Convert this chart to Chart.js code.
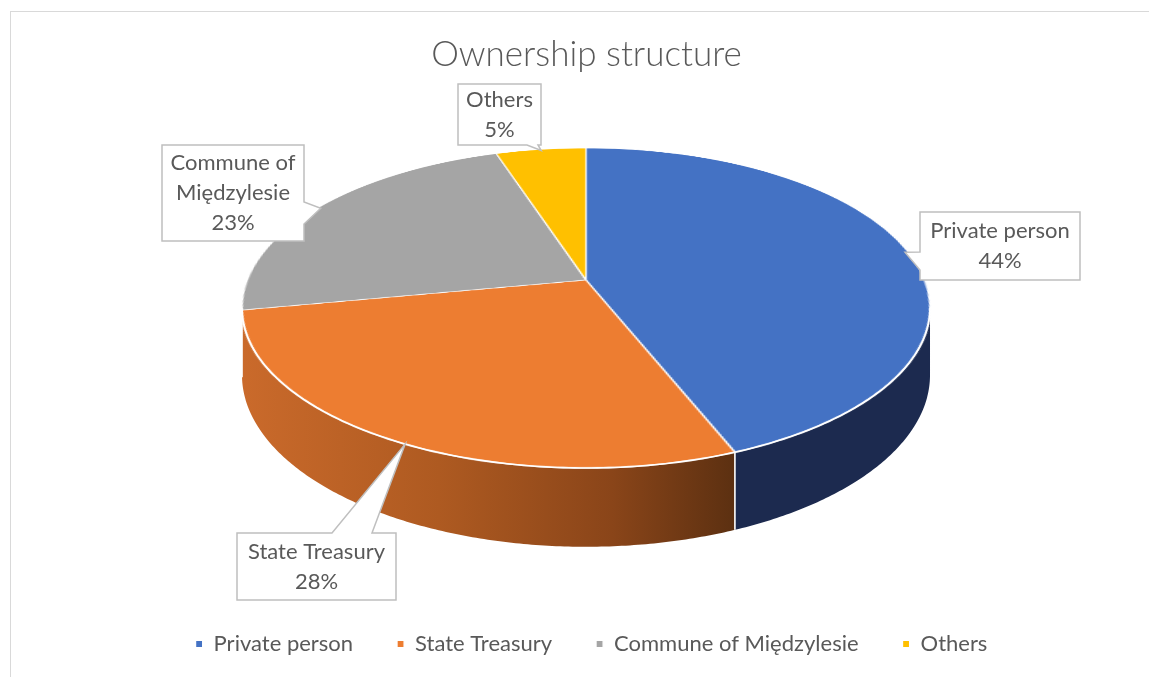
<!DOCTYPE html>
<html>
<head>
<meta charset="utf-8">
<script src="https://cdn.jsdelivr.net/npm/chart.js@4.4.0/dist/chart.umd.min.js"></script>
<style>
  html, body { margin: 0; padding: 0; background: #ffffff; overflow: hidden; }
  #wrap { position: relative; width: 1149px; height: 677px; }
  #chart { background: #ffffff; }
</style>
</head>
<body>
<div id="wrap"><canvas id="chart" width="1149" height="677"></canvas></div>
<script>
// Ownership shares (percent)
const categories = ['Private person', 'State Treasury', 'Commune of Międzylesie', 'Others'];
const shares = [44, 28, 23, 5];
// Category names as broken onto lines inside the callouts
const calloutLines = [['Private person'], ['State Treasury'], ['Commune of', 'Międzylesie'], ['Others']];

const topColors = ['#4472C4', '#ED7D31', '#A5A5A5', '#FFC000'];
const sideStops = [
  [[0, '#1C2A4F'], [1, '#1C2A4F']],
  [[0, '#CA6A2B'], [0.4, '#AE5A21'], [0.75, '#8A4519'], [1, '#5C3011']],
  [[0, '#707070'], [1, '#707070']],
  [[0, '#A37C00'], [1, '#A37C00']]
];

// Perspective view of the tilted disc: screen position of the centre, horizontal and
// vertical half-axes, perspective strength and wall height
const VIEW = { cx: 586, cy: 280, A: 338.7, B: 155.1, p: 0.175, H: 65 };

// Callout boxes: [x, y, w, h], side carrying the pointer, pointer base, where along the slice it points
const callouts = [
  { box: [920, 212, 160, 68], side: 'left',   base: [252, 270], at: 0.5,  r: 0.99 },
  { box: [237, 533, 159, 67], side: 'top',    base: [332, 372], at: 0.48, r: 1.0 },
  { box: [162, 145, 142, 96], side: 'right',  base: [202, 224], at: 0.5,  r: 0.99 },
  { box: [458, 84, 83, 61],   side: 'bottom', base: [527, 538], at: 0.5,  r: 0.99 }
];

const FONT = 'Lato, "Open Sans", sans-serif';
const TEXT = '#595959';

// project a point of the unit disc (theta clockwise from the far side, radius r)
function proj(theta, r) {
  const u = r * Math.sin(theta), w = r * Math.cos(theta);
  const q = 1 + VIEW.p * w;
  return { x: VIEW.cx + VIEW.A * u / q, y: VIEW.cy - VIEW.B * w / q, q };
}

function layer(chart) {
  const c = document.createElement('canvas');
  c.width = chart.canvas.width;
  c.height = chart.canvas.height;
  c.getContext('2d').drawImage(chart.canvas, 0, 0);
  return c;
}

function wipe(ctx) {
  ctx.save();
  ctx.setTransform(1, 0, 0, 1, 0, 0);
  ctx.clearRect(0, 0, ctx.canvas.width, ctx.canvas.height);
  ctx.restore();
}

const frame = {
  id: 'frame',
  beforeDraw(chart) {
    const ctx = chart.ctx;
    ctx.save();
    ctx.strokeStyle = '#D9D9D9';
    ctx.lineWidth = 1;
    ctx.strokeRect(10.5, 11.5, chart.width + 20, chart.height + 20);
    ctx.restore();
  },
  afterLayout(chart) {
    chart.legend.left += 5;
    chart.legend.right += 5;
  }
};

let backdrop = null;

const pie3d = {
  id: 'pie3d',
  beforeDatasetsDraw(chart) {
    // keep what is drawn so far, let the slices render on an empty sheet
    backdrop = layer(chart);
    wipe(chart.ctx);
  },
  afterDatasetsDraw(chart) {
    const ctx = chart.ctx;
    const flat = layer(chart);
    wipe(ctx);
    ctx.drawImage(backdrop, 0, 0);

    const arcs = chart.getDatasetMeta(0).data;
    const { x: x0, y: y0, outerRadius: R } = arcs[0];
    const { cx, cy, A, B, p, H } = VIEW;
    const tA = Math.PI / 2 + Math.asin(p), tB = 2 * Math.PI - tA;

    // walls on the visible front of the disc
    arcs.forEach((arc, i) => {
      const s = Math.max(arc.startAngle + Math.PI / 2, tA);
      const e = Math.min(arc.endAngle + Math.PI / 2, tB);
      if (e <= s) return;
      const n = Math.max(2, Math.ceil((e - s) / 0.01));
      const top = [], bot = [];
      for (let k = 0; k <= n; k++) {
        const pt = proj(s + (e - s) * k / n, 1);
        top.push(pt);
        bot.push({ x: pt.x, y: pt.y + H / pt.q });
      }
      const xs = top.map(pt => pt.x);
      const g = ctx.createLinearGradient(Math.min(...xs), 0, Math.max(...xs), 0);
      sideStops[i].forEach(([o, c]) => g.addColorStop(o, c));
      ctx.beginPath();
      top.forEach((pt, k) => k ? ctx.lineTo(pt.x, pt.y) : ctx.moveTo(pt.x, pt.y));
      for (let k = bot.length - 1; k >= 0; k--) ctx.lineTo(bot[k].x, bot[k].y);
      ctx.closePath();
      ctx.fillStyle = g;
      ctx.fill();
    });

    // top face: the library's flat pie, re-drawn row by row in perspective
    ctx.save();
    ctx.imageSmoothingEnabled = true;
    ctx.imageSmoothingQuality = 'high';
    const yTop = Math.floor(cy - B / (1 + p)), yBot = Math.ceil(cy + B / (1 - p));
    const pad = 2;
    for (let y = yTop; y <= yBot; y++) {
      const d = y + 0.5 - cy;
      const w = -d / (B + p * d);
      if (Math.abs(w) > 1.01) continue;
      const q = 1 + p * w;
      const hs = Math.max(0.5, R * B / Math.pow(B + p * d, 2));
      const ys = y0 - w * R;
      const half = A * (R + pad) / (R * q);
      ctx.drawImage(flat, x0 - R - pad, ys - hs / 2, 2 * (R + pad), hs, cx - half, y, 2 * half, 1);
    }
    ctx.restore();

    // white edges: front rim and the slice seams on the wall
    ctx.save();
    ctx.strokeStyle = '#ffffff';
    ctx.lineWidth = 1.6;
    ctx.beginPath();
    for (let k = 0; k <= 200; k++) {
      const pt = proj(tA + (tB - tA) * k / 200, 1);
      k ? ctx.lineTo(pt.x, pt.y) : ctx.moveTo(pt.x, pt.y);
    }
    ctx.stroke();
    arcs.forEach(arc => {
      const t = arc.startAngle + Math.PI / 2;
      if (t <= tA || t >= tB) return;
      const pt = proj(t, 1);
      ctx.beginPath();
      ctx.moveTo(pt.x, pt.y);
      ctx.lineTo(pt.x, pt.y + H / pt.q);
      ctx.stroke();
    });
    ctx.restore();
  },
  afterDraw(chart) {
    const ctx = chart.ctx;
    const arcs = chart.getDatasetMeta(0).data;
    ctx.save();
    callouts.forEach((c, i) => {
      const arc = arcs[i];
      const ang = arc.startAngle + (arc.endAngle - arc.startAngle) * c.at + Math.PI / 2;
      const tip = proj(ang, c.r);
      const tx = tip.x, ty = tip.y;
      const [x, y, w, h] = c.box;
      const [b0, b1] = c.base;
      ctx.beginPath();
      ctx.moveTo(x, y);
      if (c.side === 'top') { ctx.lineTo(b0, y); ctx.lineTo(tx, ty); ctx.lineTo(b1, y); }
      ctx.lineTo(x + w, y);
      if (c.side === 'right') { ctx.lineTo(x + w, b0); ctx.lineTo(tx, ty); ctx.lineTo(x + w, b1); }
      ctx.lineTo(x + w, y + h);
      if (c.side === 'bottom') { ctx.lineTo(b1, y + h); ctx.lineTo(tx, ty); ctx.lineTo(b0, y + h); }
      ctx.lineTo(x, y + h);
      if (c.side === 'left') { ctx.lineTo(x, b1); ctx.lineTo(tx, ty); ctx.lineTo(x, b0); }
      ctx.closePath();
      ctx.fillStyle = '#ffffff';
      ctx.fill();
      ctx.strokeStyle = '#BFBFBF';
      ctx.lineWidth = 1.5;
      ctx.stroke();

      const lines = calloutLines[i].concat([shares[i] + '%']);
      const lh = 30;
      ctx.fillStyle = TEXT;
      ctx.font = '22px ' + FONT;
      ctx.textAlign = 'center';
      ctx.textBaseline = 'middle';
      lines.forEach((t, k) => {
        ctx.fillText(t, x + w / 2, y + h / 2 + (k - (lines.length - 1) / 2) * lh);
      });
    });
    ctx.restore();
  }
};

new Chart(document.getElementById('chart'), {
  type: 'pie',
  data: {
    labels: categories,
    datasets: [{
      data: shares,
      backgroundColor: topColors,
      borderColor: '#ffffff',
      borderWidth: 1.2,
      clip: false
    }]
  },
  options: {
    responsive: false,
    animation: false,
    events: [],
    layout: { padding: { left: 24, right: 0, top: 0, bottom: 12 } },
    plugins: {
      title: {
        display: true,
        text: 'Ownership structure',
        color: TEXT,
        font: { family: FONT, size: 35, weight: '300' },
        padding: { top: 34, bottom: 10 }
      },
      legend: {
        position: 'bottom',
        labels: {
          usePointStyle: true,
          pointStyle: 'rect',
          boxWidth: 7,
          boxHeight: 7,
          color: TEXT,
          font: { family: FONT, size: 22 },
          padding: 44
        }
      },
      tooltip: { enabled: false }
    }
  },
  plugins: [frame, pie3d]
});
</script>
</body>
</html>
